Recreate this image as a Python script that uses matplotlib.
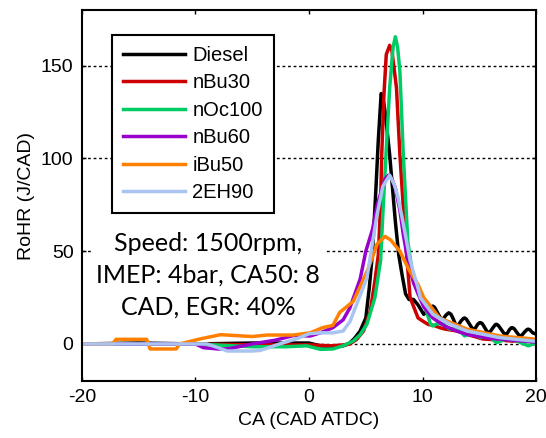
import matplotlib.pyplot as plt

plt.rcParams['font.family'] = ['Liberation Sans', 'DejaVu Sans']
plt.rcParams['axes.unicode_minus'] = False

labels = ['Diesel', 'nBu30', 'nOc100', 'nBu60', 'iBu50', '2EH90']
colors = ['#000000', '#cc0000', '#00cc66', '#9900cc', '#ff8000', '#aac4f2']

# crank angle / rate of heat release
diesel_x = [-20, -15, -10, -5, -2, 0, 1, 2, 3, 3.5, 4, 4.5, 5, 5.3, 5.6, 5.9, 6.1, 6.35, 6.5, 6.7,
            7.1, 7.6, 7.9, 8.2, 8.5, 8.8, 9.2, 9.6, 10.1, 10.5, 10.75, 10.9, 11.05, 11.3, 11.55,
            11.7, 11.85, 12.05, 12.3, 12.5, 12.7, 12.9, 13.0, 13.15, 13.4, 13.6, 13.7, 13.85,
            14.1, 14.35, 14.5, 14.65, 14.85, 15.0, 15.1, 15.25, 15.5, 15.7, 15.8, 15.95, 16.2,
            16.4, 16.5, 16.65, 16.9, 17.15, 17.3, 17.45, 17.65, 17.8, 17.9, 18.05, 18.3, 18.5,
            18.6, 18.75, 19.0, 19.2, 19.3, 19.45, 19.7, 20]
diesel_y = [0, 0.5, 0, 0.5, 0.5, 0.5, -1, -1.5, -1, 0, 3, 7, 14, 30, 50, 85, 110, 135, 133, 125,
            102, 66, 48, 37, 27, 24, 24, 21, 16, 18, 20, 20.4, 19.8, 17, 14.2,
            13.4, 13.8, 15.5, 16.8, 16, 13.5, 10.5, 9.7, 10.3, 12.5, 13.8, 14, 13.4,
            11, 8.6, 8, 8.6, 10.6, 11.4, 11.5, 11, 8.5, 6.4, 6, 6.6, 8.8,
            10.4, 10.6, 10.1, 8, 5.8, 5.3, 5.7, 7.7, 8.7, 8.8, 8.3, 6.2, 4.6,
            4.3, 4.8, 6.6, 7.8, 8, 7.6, 6, 5.3]

nbu30_x = [-20, -10, -5, 0, 2, 3, 3.6, 4.2, 4.8, 5.4, 5.8, 6.1, 6.3, 6.4, 6.6, 6.8, 7.1, 7.3,
           7.7, 8.0, 8.5, 8.9, 9.6, 10.1, 10.5, 11.0, 11.5, 12, 13, 14, 15.3, 17, 18, 19, 20]
nbu30_y = [0, 0, -0.5, -0.5, -1, -0.5, 0, 2.5, 7, 18, 34, 48, 75, 102, 135, 156, 161, 158,
           138, 102, 55, 25, 14, 12, 10.5, 10, 8.8, 8, 7, 5, 2.7, 2, 1.5, 2.5, 2]

noc100_x = [-20, -10, -5, -2, -0.2, 1, 2.1, 3, 3.9, 4.5, 5.1, 5.8, 6.3, 6.5, 6.8, 7.1, 7.4,
            7.6, 7.8, 8.0, 8.3, 8.7, 9.2, 9.8, 10.7, 10.9, 11.3, 11.8, 12.4, 13, 13.7, 14.3,
            15.1, 15.8, 16.5, 17.4, 18.3, 19.3, 20]
noc100_y = [0, 0, -1.5, -1.5, -1, -2.9, -2.7, -1, 1.6, 5, 10.7, 25, 45, 70, 105, 138, 160,
            165.6, 160, 147, 102, 55, 34, 28, 10.6, 9.7, 11, 10.7, 8, 8.8, 4.3, 6,
            3.4, 4.3, 0.7, 2.7, 1.6, -1, 0.7]

nbu60_x = [-20, -15, -10, -9.3, -8, -7, -5, -3, -1.4, 0.1, 1, 2.1, 3, 3.6, 4.5, 5.0, 5.6,
           6.0, 6.3, 6.7, 7.0, 7.3, 7.6, 8.0, 8.3, 8.7, 9.2, 9.6, 10.1, 10.9, 12, 13, 14,
           16, 18, 20]
nbu60_y = [0, 0, 0, -2, -2.7, -2.5, 0, 2, 4.5, 4.3, 6, 8.8, 13, 19.5, 35, 50, 62,
           75, 81, 89, 91, 89, 84, 72, 59, 45, 33, 27, 20, 14, 9.5, 7, 5,
           3, 2, 1]

ibu50_x = [-20, -17.3, -17, -14.3, -14, -11.7, -11.4, -9.6, -7.8, -5, -3.7, -1.4, 0.1, 1.2,
           2.1, 2.7, 3.9, 5.1, 5.6, 6.0, 6.7, 7.2, 8.0, 8.8, 9.6, 10.1, 11.5, 13.9, 16.8,
           19.7, 20]
ibu50_y = [0, 0, 2.5, 2.5, -2.7, -2.7, 0, 2.7, 5, 4, 4.8, 4.8, 6, 8.8,
           10, 17, 23, 39, 47, 54, 58, 56, 50, 40, 32, 25, 14, 8, 4.3,
           2.7, 2.5]

eh90_x = [-20, -9, -8, -7.2, -5, -4.3, -2.6, -1, 0, 1, 2.1, 3, 3.6, 4.2, 5.1, 5.6, 6.0, 6.5,
          7.1, 7.5, 7.8, 8.2, 8.6, 8.9, 9.6, 9.8, 10.9, 12.4, 13.9, 16.8, 19.7, 20]
eh90_y = [0, 0, -2, -3.8, -3.8, -3.5, 0, 3, 5.5, 6, 6, 7, 12, 21.5, 35.6, 55, 70, 85,
          91, 86, 80, 68, 55, 45, 30, 25, 16, 10.7, 7, 3.4, 1.6, 1.5]

xs = [diesel_x, nbu30_x, noc100_x, nbu60_x, ibu50_x, eh90_x]
ys = [diesel_y, nbu30_y, noc100_y, nbu60_y, ibu50_y, eh90_y]

fig = plt.figure(figsize=(5.46, 4.38), dpi=100)
ax = fig.add_axes([0.150, 0.130, 0.832, 0.847])

for x, y, c, lab in zip(xs, ys, colors, labels):
    ax.plot(x, y, color=c, lw=2.5, label=lab, solid_joinstyle='round')

ax.set_xlim(-20, 20)
ax.set_ylim(-20, 180)
ax.set_xticks([-20, -10, 0, 10, 20])
ax.set_yticks([0, 50, 100, 150])
ax.grid(axis='y', color='black', linestyle=(0, (2, 2)), lw=1.0)
ax.tick_params(direction='in', length=3, width=1, labelsize=14, top=True, right=True, pad=6)
for s in ax.spines.values():
    s.set_linewidth(1.5)

ax.set_xlabel('CA (CAD ATDC)', fontsize=14, labelpad=4)
ax.set_ylabel('RoHR (J/CAD)', fontsize=14, labelpad=4)

leg = ax.legend(loc='upper left', bbox_to_anchor=(0.066, 0.933), borderaxespad=0,
                fontsize=14.5, fancybox=False, framealpha=1, edgecolor='black',
                handlelength=3.1, labelspacing=0.42, borderpad=0.55, handletextpad=0.35)
leg.get_frame().set_linewidth(1.5)
for h in leg.get_lines():
    h.set_linewidth(2.5)

ax.text(0.278, 0.285, 'Speed: 1500rpm,\nIMEP: 4bar, CA50: 8\nCAD, EGR: 40%',
        transform=ax.transAxes, ha='center', va='center', multialignment='center',
        fontsize=18, family=['Lato', 'DejaVu Sans'], linespacing=1.48,
        bbox=dict(facecolor='white', edgecolor='none', pad=4), zorder=5)

fig.savefig('out.png', dpi=100)
